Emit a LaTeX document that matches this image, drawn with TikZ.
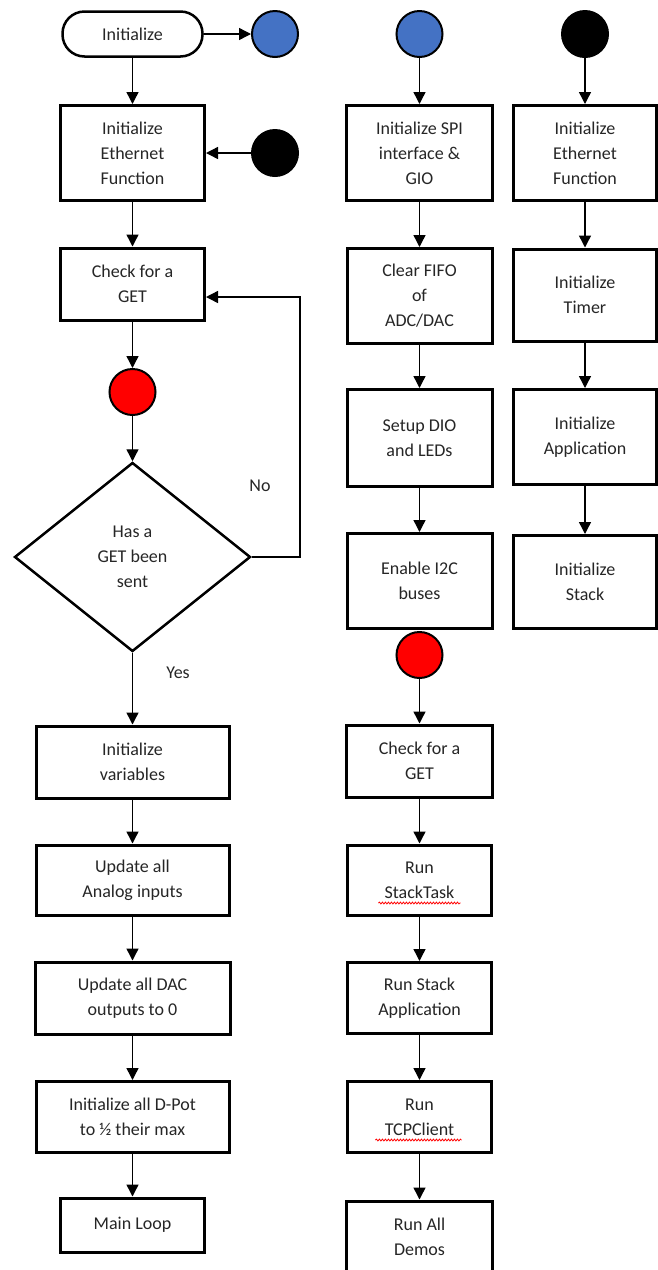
\documentclass[tikz,border=0pt]{standalone}
\usepackage{fontspec}
\setmainfont{Carlito}
\usepackage{tikz}
\usetikzlibrary{arrows.meta}
\usetikzlibrary{shapes.geometric}
\usetikzlibrary{calc}
\usetikzlibrary{decorations.pathmorphing}
\definecolor{dotblue}{RGB}{68,114,196}
\definecolor{dotred}{RGB}{255,0,0}
\definecolor{inkgray}{RGB}{38,38,38}

\begin{document}
\begin{tikzpicture}[x=1pt,y=-1pt,->,>={Triangle[length=12pt,width=12pt]},line width=1.4pt,
        font=\fontsize{18}{25}\selectfont,
        proc node/.style={rectangle,draw,line width=3pt,fill=white,align=center,text=inkgray,inner sep=2pt,minimum width=144pt},
        term node/.style={rectangle,rounded corners=22pt,draw,line width=2.5pt,minimum width=140pt,minimum height=45pt,text=inkgray},
        dot node/.style={circle,draw,line width=2pt,minimum size=46pt,inner sep=0pt},
        dec node/.style={diamond,draw,line width=2.5pt,align=center,text=inkgray,minimum width=236pt,minimum height=189pt,inner sep=0pt},
        lbl node/.style={text=inkgray},
        spell/.style={-,draw=red,line width=0.8pt,decorate,decoration={snake,amplitude=0.9pt,segment length=3pt}}]

        \useasboundingbox (0,0) rectangle (658,1270);

        % left column
        \node[term node] (init) at (132.5,34) {Initialize};
        \node[dot node,fill=dotblue] (blueL) at (275,34) {};
        \node[proc node,minimum height=95pt] (ethL) at (132.5,153) {Initialize\\Ethernet\\Function};
        \node[dot node,fill=black] (blackL) at (275,153) {};
        \node[proc node,minimum height=72pt] (getL) at (132.5,284) {Check for a\\GET};
        \node[dot node,fill=dotred] (redL) at (132.5,392) {};
        \node[dec node] (sent) at (132.5,557) {Has a\\GET been\\sent};
        \node[lbl node] (no) at (260,486) {No};
        \node[lbl node] (yes) at (178,673) {Yes};
        \node[proc node,minimum width=193pt,minimum height=72pt] (vars) at (132.5,762) {Initialize\\variables};
        \node[proc node,minimum width=193pt,minimum height=70pt] (analog) at (132.5,880) {Update all\\Analog inputs};
        \node[proc node,minimum width=195pt,minimum height=72pt] (dac) at (132.5,998) {Update all DAC\\outputs to 0};
        \node[proc node,minimum width=193pt,minimum height=71pt] (dpot) at (132.5,1117) {Initialize all D-Pot\\to ½ their max};
        \node[proc node,minimum height=54pt] (loop) at (132.5,1225) {Main Loop};
        \coordinate (back) at (300,297);

        % middle column
        \node[dot node,fill=dotblue] (blueM) at (419.5,34) {};
        \node[proc node,minimum width=146pt,minimum height=95pt] (spi) at (419.5,153) {Initialize SPI\\interface \&\\GIO};
        \node[proc node,minimum width=145pt,minimum height=95pt] (fifo) at (419.5,296) {Clear FIFO\\of\\ADC/DAC};
        \node[proc node,minimum width=145pt,minimum height=97pt] (dio) at (419.5,438) {Setup DIO\\and LEDs};
        \node[proc node,minimum width=145pt,minimum height=95pt] (i2c) at (419.5,581) {Enable I2C\\buses};
        \node[dot node,fill=dotred] (redM) at (419.5,655) {};
        \node[proc node,minimum width=146pt,minimum height=72pt] (getM) at (419.5,761) {Check for a\\GET};
        \node[proc node,minimum width=144pt,minimum height=70pt] (task) at (419.5,880) {Run\\StackTask};
        \node[proc node,minimum width=144pt,minimum height=71pt] (stackapp) at (419.5,998) {Run Stack\\Application};
        \node[proc node,minimum width=144pt,minimum height=71pt] (tcp) at (419.5,1117) {Run\\TCPClient};
        \node[proc node,minimum width=146pt,minimum height=72pt] (demos) at (419.5,1237) {Run All\\Demos};

        % right column
        \node[dot node,fill=black] (blackR) at (585,34) {};
        \node[proc node,minimum width=143pt,minimum height=95pt] (ethR) at (585,153) {Initialize\\Ethernet\\Function};
        \node[proc node,minimum width=143pt,minimum height=92pt] (timer) at (585,295) {Initialize\\Timer};
        \node[proc node,minimum width=143pt,minimum height=95pt] (appR) at (585,437) {Initialize\\Application};
        \node[proc node,minimum width=143pt,minimum height=93pt] (stackR) at (585,582) {Initialize\\Stack};

        \path (init) edge (blueL);
        \path (init) edge (ethL);
        \path (blackL) edge (ethL);
        \path (ethL) edge (getL);
        \path (getL) edge (redL);
        \path (redL) edge (sent);
        \path (sent) edge (vars);
        \path (vars) edge (analog);
        \path (analog) edge (dac);
        \path (dac) edge (dpot);
        \path (dpot) edge (loop);
        \draw (sent.east) -| (back) -- (back -| getL.east);

        \path (blueM) edge (spi);
        \path (spi) edge (fifo);
        \path (fifo) edge (dio);
        \path (dio) edge (i2c);
        \path (redM) edge (getM);
        \path (getM) edge (task);
        \path (task) edge (stackapp);
        \path (stackapp) edge (tcp);
        \path (tcp) edge (demos);

        \path (blackR) edge (ethR);
        \path (ethR) edge (timer);
        \path (timer) edge (appR);
        \path (appR) edge (stackR);

        % spell-check marks
        \draw[spell] ($(task.center)+(-41,23)$) -- ++(82,0);
        \draw[spell] ($(tcp.center)+(-44,23)$) -- ++(86,0);
    \end{tikzpicture}
\end{document}
